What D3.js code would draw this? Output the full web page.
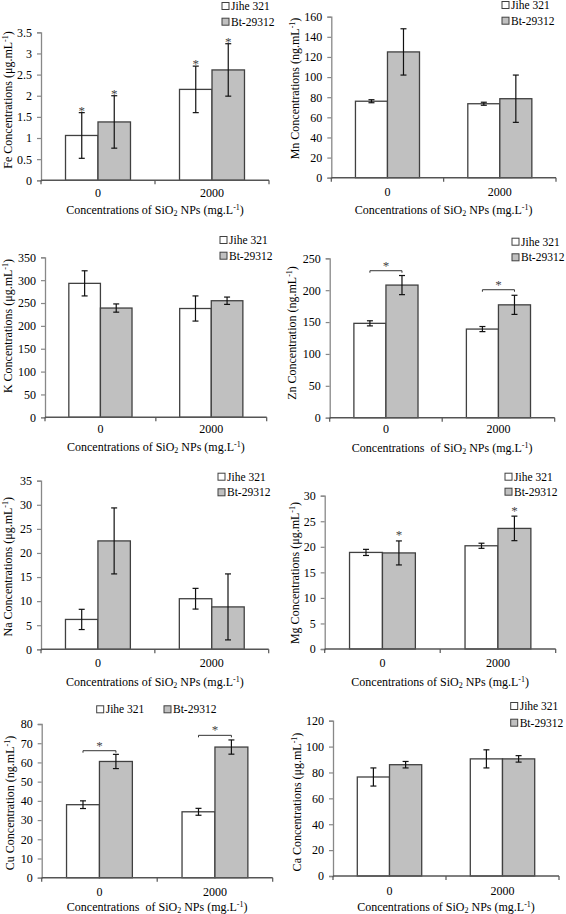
<!DOCTYPE html>
<html>
<head>
<meta charset="utf-8">
<script src="https://cdn.jsdelivr.net/npm/d3@7"></script>
<style>
html,body{margin:0;padding:0;background:#fff;}
svg{display:block;font-family:"Liberation Serif","Times New Roman",serif;}
svg text{font-family:"Liberation Serif","Times New Roman",serif;}
</style>
</head>
<body>
<svg id="chart" width="566" height="914"></svg>
<script>
// ---------- DATA ----------
const categories = ["0", "2000"];
const seriesNames = ["Jihe 321", "Bt-29312"];

const feJihe = [1.06, 2.15], feJiheErr = [0.54, 0.55];
const feBt = [1.38, 2.61], feBtErr = [0.62, 0.62];
const feTicks = [0, 0.5, 1, 1.5, 2, 2.5, 3, 3.5];
const feStarJihe = [true, true], feStarBt = [true, true];

const mnJihe = [76, 73.5], mnJiheErr = [1.5, 1.5];
const mnBt = [125, 78.5], mnBtErr = [23, 23.5];
const mnTicks = [0, 20, 40, 60, 80, 100, 120, 140, 160];

const kJihe = [293, 238], kJiheErr = [27.5, 27.5];
const kBt = [239, 255], kBtErr = [9, 8];
const kTicks = [0, 50, 100, 150, 200, 250, 300, 350];

const znJihe = [148, 139], znJiheErr = [4, 4];
const znBt = [208, 177], znBtErr = [15, 15];
const znTicks = [0, 50, 100, 150, 200, 250];
const znBracket = [230.5, 200.7];

const naJihe = [6.2, 10.5], naJiheErr = [2.1, 2.15];
const naBt = [22.5, 8.8], naBtErr = [6.85, 6.85];
const naTicks = [0, 5, 10, 15, 20, 25, 30, 35];

const mgJihe = [18.9, 20.2], mgJiheErr = [0.6, 0.5];
const mgBt = [18.8, 23.6], mgBtErr = [2.35, 2.4];
const mgTicks = [0, 5, 10, 15, 20, 25, 30];
const mgStarBt = [true, true];

const cuJihe = [38, 34.3], cuJiheErr = [2, 1.8];
const cuBt = [60.5, 68], cuBtErr = [3.7, 3.7];
const cuTicks = [0, 10, 20, 30, 40, 50, 60, 70, 80];
const cuBracket = [66.1, 74.1];

const caJihe = [76.5, 90.5], caJiheErr = [7, 7];
const caBt = [86, 90.5], caBtErr = [2.5, 2.5];
const caTicks = [0, 20, 40, 60, 80, 100, 120];

// ---------- LAYOUT ----------
const panels = [
  {el:"Fe", unit:"μg", word:"Concentrations", xword:"Concentrations of SiO", jihe:feJihe, jiheErr:feJiheErr, bt:feBt, btErr:feBtErr, ticks:feTicks, starJihe:feStarJihe, starBt:feStarBt, starGap:0,
   left:41, right:269, top:32.3, bottom:180.3, ylx:7.5, yly:100, catDy:13, titleDy:30, legend:{x:222, y:[6,21.7]}},
  {el:"Mn", unit:"ng", word:"Concentrations", xword:"Concentrations of SiO", jihe:mnJihe, jiheErr:mnJiheErr, bt:mnBt, btErr:mnBtErr, ticks:mnTicks,
   left:331.3, right:556, top:16.7, bottom:177.7, ylx:295, yly:88.5, catDy:14.5, titleDy:32, legend:{x:502, y:[5,20.7]}},
  {el:"K", unit:"μg", word:"Concentrations", xword:"Concentrations of SiO", jihe:kJihe, jiheErr:kJiheErr, bt:kBt, btErr:kBtErr, ticks:kTicks,
   left:45, right:266.7, top:257.3, bottom:417.3, ylx:8, yly:326, catDy:11.5, titleDy:29.5, legend:{x:220, y:[240,255.7]}},
  {el:"Zn", unit:"ng", word:"Concentration", xword:"Concentrations  of SiO", jihe:znJihe, jiheErr:znJiheErr, bt:znBt, btErr:znBtErr, ticks:znTicks, bracket:znBracket,
   left:329.7, right:554.7, top:258.3, bottom:417.7, ylx:292, yly:333, catDy:11.5, titleDy:30, legend:{x:512, y:[241.7,257.3]}},
  {el:"Na", unit:"μg", word:"Concentrations", xword:"Concentrations of SiO", jihe:naJihe, jiheErr:naJiheErr, bt:naBt, btErr:naBtErr, ticks:naTicks,
   left:41, right:268.7, top:480.7, bottom:649.3, ylx:8, yly:566.7, catDy:14, titleDy:33, legend:{x:218, y:[476.7,492.3]}},
  {el:"Mg", unit:"μg", word:"Concentrations", xword:"Concentrations of SiO", jihe:mgJihe, jiheErr:mgJiheErr, bt:mgBt, btErr:mgBtErr, ticks:mgTicks, starBt:mgStarBt, starGap:3.5,
   left:324.7, right:555.7, top:495.7, bottom:649, ylx:295, yly:573, catDy:14, titleDy:33, legend:{x:505, y:[476.7,491.7]}},
  {el:"Cu", unit:"ng", word:"Concentration", xword:"Concentrations  of SiO", jihe:cuJihe, jiheErr:cuJiheErr, bt:cuBt, btErr:cuBtErr, ticks:cuTicks, bracket:cuBracket,
   left:41.7, right:272.7, top:724, bottom:877.7, ylx:10, yly:803, catDy:14, titleDy:29.5, legend:{horizontal:true, x:[96.7,164], y:709.3}},
  {el:"Ca", unit:"μg", word:"Concentrations", xword:"Concentrations of SiO", jihe:caJihe, jiheErr:caJiheErr, bt:caBt, btErr:caBtErr, ticks:caTicks,
   left:333, right:559, top:720.7, bottom:876, ylx:297, yly:802, catDy:14.7, titleDy:31, legend:{x:510.7, y:[706,722.7]}}
];

const svg = d3.select("#chart");
const fills = ["#ffffff", "#c0c0c0"];
const barStroke = "#404040";
const serif = "Liberation Serif";

function fmt(v){ return String(v); }

panels.forEach(p => {
  const g = svg.append("g");
  const ymax = p.ticks[p.ticks.length - 1];
  const y = d3.scaleLinear().domain([0, ymax]).range([p.bottom, p.top]);
  const x0 = d3.scaleBand().domain(categories).range([p.left, p.right]).padding(0);
  const bw = x0.bandwidth() * 0.285;
  const x1 = d3.scaleBand().domain([0, 1]).range([x0.bandwidth()/2 - bw, x0.bandwidth()/2 + bw]).padding(0);

  // y axis
  const yAxis = d3.axisLeft(y).tickValues(p.ticks).tickSize(4).tickPadding(5).tickFormat(fmt);
  const ya = g.append("g").attr("transform", `translate(${p.left},0)`).call(yAxis)
    .attr("font-family", serif);
  ya.select(".domain").attr("stroke", "#888").attr("stroke-width", 1.3);
  ya.selectAll(".tick line").attr("stroke", "#888").attr("stroke-width", 1.2);
  ya.selectAll(".tick text").attr("font-size", 12).attr("fill", "#000").attr("font-family", serif);

  const series = [
    {vals:p.jihe, errs:p.jiheErr, stars:p.starJihe},
    {vals:p.bt, errs:p.btErr, stars:p.starBt}
  ];

  // bars
  series.forEach((s, si) => {
    g.selectAll(null).data(categories).enter().append("rect")
      .attr("x", (c) => x0(c) + x1(si))
      .attr("width", x1.bandwidth())
      .attr("y", (c, i) => y(s.vals[i]))
      .attr("height", (c, i) => y(0) - y(s.vals[i]))
      .attr("fill", fills[si]).attr("stroke", barStroke).attr("stroke-width", 1.3);
  });

  // x axis
  const xa = g.append("g").attr("transform", `translate(0,${p.bottom})`);
  xa.append("line").attr("x1", p.left).attr("x2", p.right).attr("y1", 0).attr("y2", 0)
    .attr("stroke", "#555").attr("stroke-width", 1.4);
  const bounds = [p.left, x0(categories[1]), p.right];
  xa.selectAll(null).data(bounds).enter().append("line")
    .attr("x1", d => d).attr("x2", d => d).attr("y1", 0).attr("y2", 4)
    .attr("stroke", "#555").attr("stroke-width", 1.2);
  xa.selectAll(null).data(categories).enter().append("text")
    .attr("x", c => x0(c) + x0.bandwidth()/2).attr("y", p.catDy + 4)
    .attr("text-anchor", "middle").attr("font-size", 12).attr("font-family", serif).text(c => c);

  // error bars
  series.forEach((s, si) => {
    categories.forEach((c, i) => {
      const cx = x0(c) + x1(si) + x1.bandwidth()/2;
      const top = y(s.vals[i] + s.errs[i]), bot = y(s.vals[i] - s.errs[i]);
      const eg = g.append("g").attr("stroke", "#111").attr("stroke-width", 1.2);
      eg.append("line").attr("x1", cx).attr("x2", cx).attr("y1", top).attr("y2", bot);
      eg.append("line").attr("x1", cx - 3).attr("x2", cx + 3).attr("y1", top).attr("y2", top);
      eg.append("line").attr("x1", cx - 3).attr("x2", cx + 3).attr("y1", bot).attr("y2", bot);
      if (s.stars && s.stars[i]) {
        g.append("text").attr("x", cx).attr("y", top + 2 - (p.starGap || 0)).attr("text-anchor", "middle")
          .attr("font-size", 13).attr("font-family", serif).attr("fill", "#444").text("*");
      }
    });
  });

  // significance brackets
  if (p.bracket) {
    categories.forEach((c, i) => {
      const xa1 = x0(c) + x1(0) + x1.bandwidth()/2;
      const xb1 = x0(c) + x1(1) + x1.bandwidth()/2;
      const by = y(p.bracket[i]);
      const bg = g.append("g").attr("stroke", "#333").attr("stroke-width", 1);
      bg.append("line").attr("x1", xa1).attr("x2", xb1).attr("y1", by).attr("y2", by);
      bg.append("line").attr("x1", xa1).attr("x2", xa1).attr("y1", by).attr("y2", by + 2);
      bg.append("line").attr("x1", xb1).attr("x2", xb1).attr("y1", by).attr("y2", by + 2);
      g.append("text").attr("x", (xa1 + xb1)/2).attr("y", by - 1).attr("text-anchor", "middle")
        .attr("font-size", 13).attr("font-family", serif).attr("fill", "#444").text("*");
    });
  }

  // y title
  const yt = g.append("text")
    .attr("transform", `translate(${p.ylx + 4},${p.yly}) rotate(-90)`)
    .attr("text-anchor", "middle").attr("font-size", 12).attr("font-family", serif);
  yt.append("tspan").text(`${p.el} ${p.word} (${p.unit}.mL`);
  yt.append("tspan").attr("font-size", 8).attr("dy", -4).text("-1");
  yt.append("tspan").attr("dy", 4).text(")");

  // x title
  const xt = g.append("text")
    .attr("x", (p.left + p.right)/2).attr("y", p.bottom + p.titleDy + 4)
    .attr("text-anchor", "middle").attr("font-size", 12).attr("font-family", serif)
    .style("white-space", "pre");
  xt.append("tspan").text(p.xword);
  xt.append("tspan").attr("font-size", 8).attr("dy", 2).text("2");
  xt.append("tspan").attr("dy", -2).text(" NPs (mg.L");
  xt.append("tspan").attr("font-size", 8).attr("dy", -4).text("-1");
  xt.append("tspan").attr("dy", 4).text(")");

  // legend
  const L = p.legend;
  seriesNames.forEach((name, si) => {
    const lx = L.horizontal ? L.x[si] : L.x;
    const ly = L.horizontal ? L.y : L.y[si];
    g.append("rect").attr("x", lx).attr("y", ly - 3.5).attr("width", 7).attr("height", 7)
      .attr("fill", fills[si]).attr("stroke", barStroke).attr("stroke-width", 1);
    g.append("text").attr("x", lx + 9).attr("y", ly + 4).attr("font-size", 11.5)
      .attr("font-family", serif).text(name);
  });
});
</script>
</body>
</html>
